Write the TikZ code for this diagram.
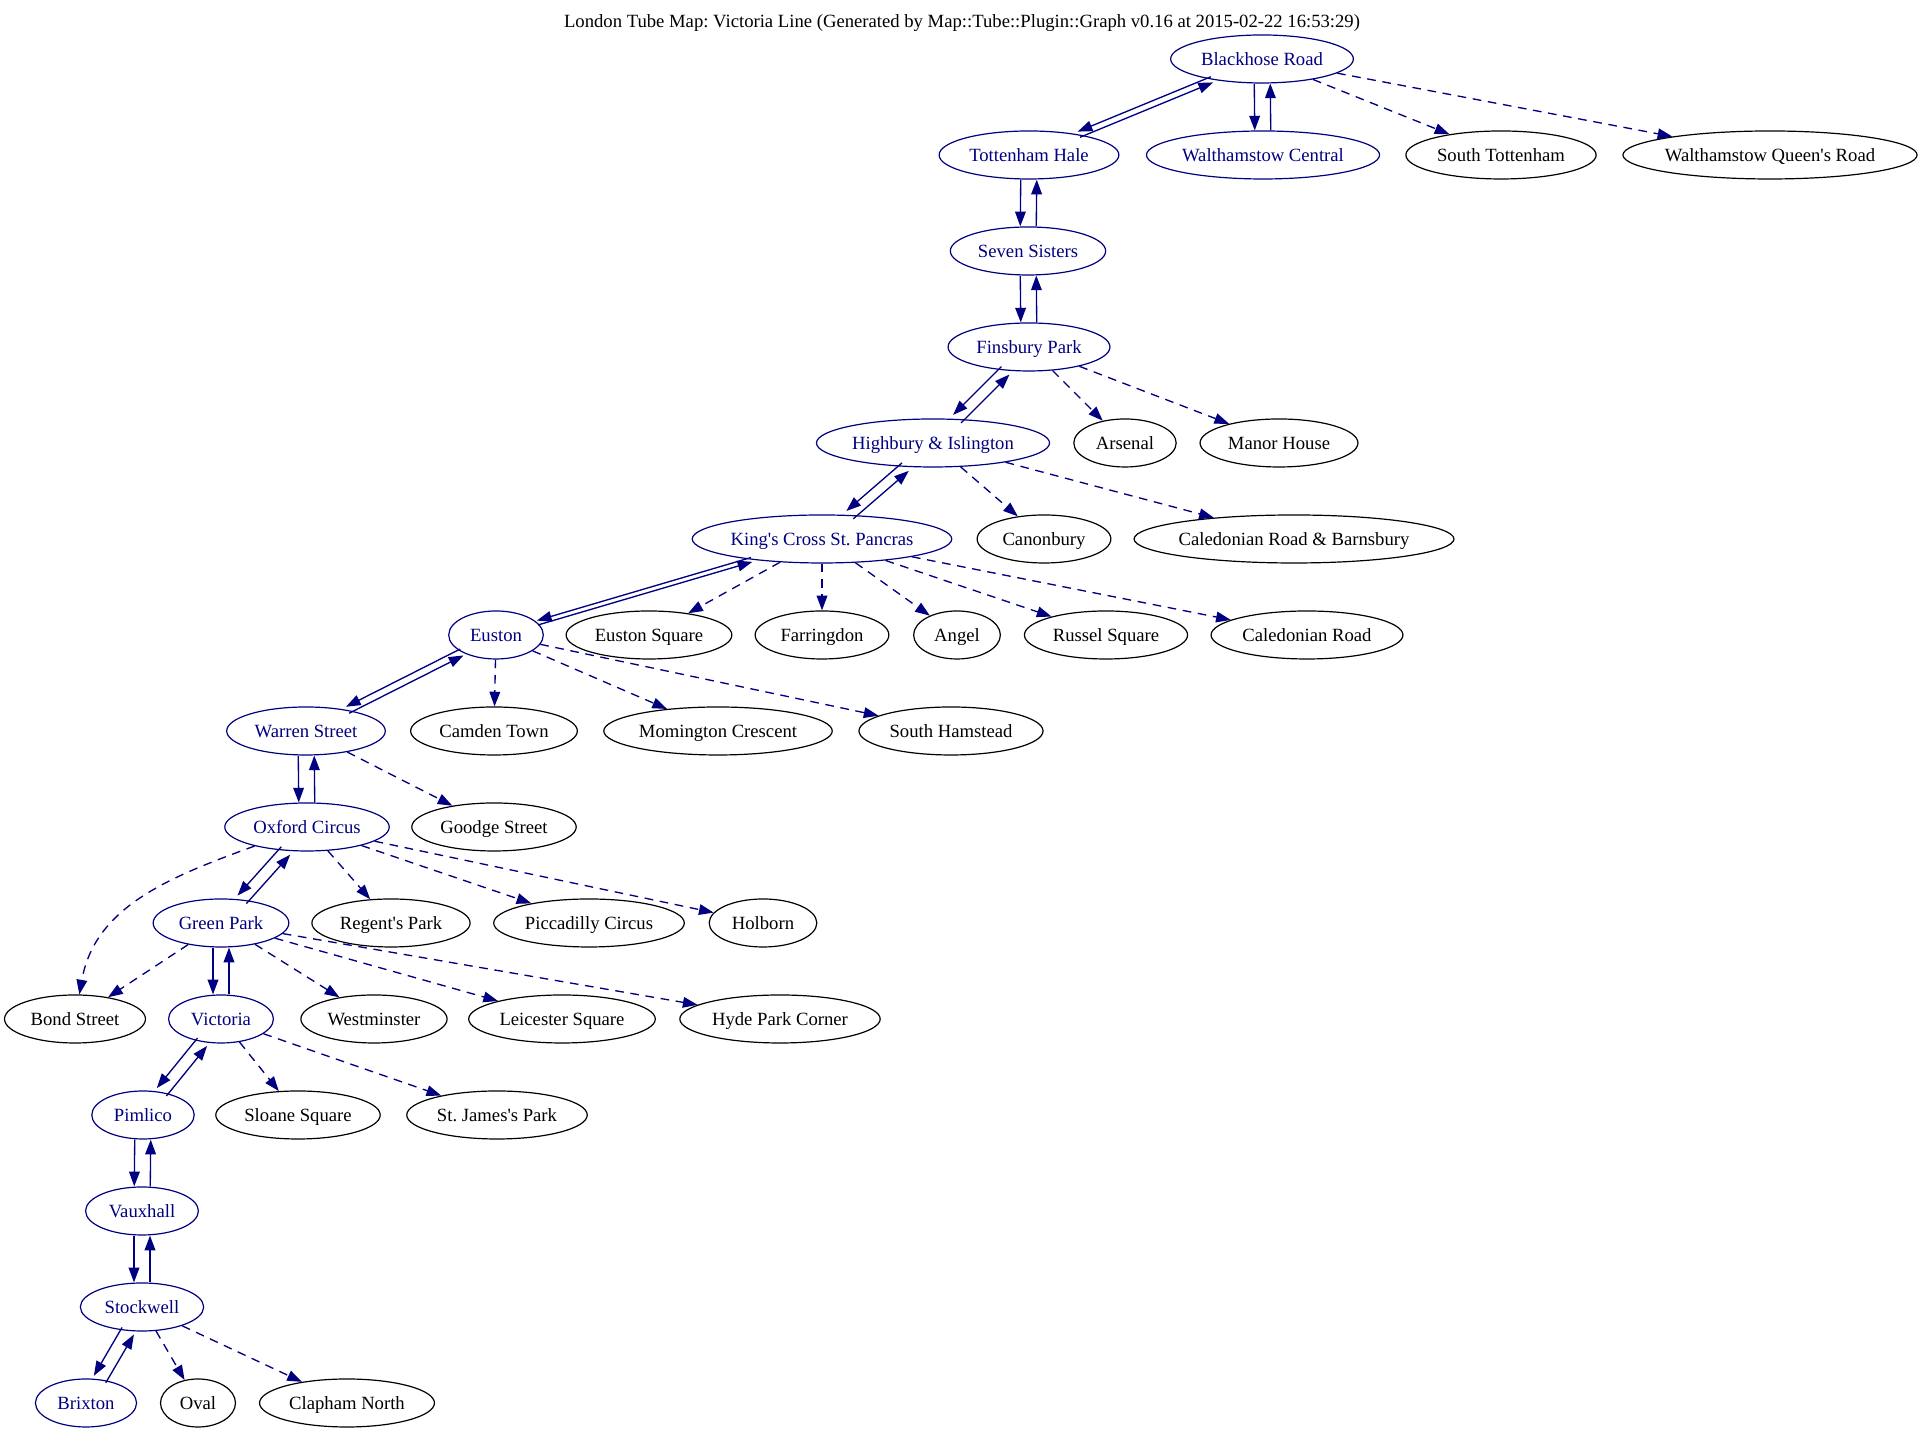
\documentclass[tikz,border=0pt]{standalone}
\usepackage{fontspec}
\setmainfont{Liberation Serif}
\usepackage{tikz}
\usetikzlibrary{arrows.meta,shapes.geometric}
\definecolor{navy}{RGB}{0,0,128}
\frenchspacing

% label box narrowed a little, so long names get tighter ellipses
\newsavebox\stationbox
\newlength\stationwd

\tikzset{
  station/.style={ellipse, draw, line width=0.9pt, minimum width=54pt, minimum height=36pt,
    inner xsep=0pt, inner ysep=2pt, text height=12pt, text depth=2.7pt,
    font=\fontsize{14}{16}\selectfont,
    execute at begin node={\setbox\stationbox=\hbox\bgroup},
    execute at end node={\egroup\setlength\stationwd{0.891\wd\stationbox}%
      \addtolength\stationwd{15.5pt}\hbox to \stationwd{\hss\box\stationbox\hss}}},
  onroute/.style={station, draw=navy, text=navy},
  offroute/.style={station, draw=black, text=black},
  tube/.style={navy, line width=1pt, -{Triangle[length=11pt,width=8pt]}},
  branch/.style={tube, dash pattern=on 6.5pt off 5pt},
}

% two opposite solid edges, each moved sideways to its own right
\newcommand\tubelink[2]{%
  \pgfmathanglebetweenpoints{\pgfpointanchor{#1}{center}}{\pgfpointanchor{#2}{center}}%
  \let\tubeangle\pgfmathresult
  \pgfmathsetmacro\tubedx{6*sin(\tubeangle)*sin(\tubeangle)}%
  \pgfmathsetmacro\tubedy{-6*sin(\tubeangle)*cos(\tubeangle)}%
  \pgfmathsetmacro\tubemx{0-(\tubedx)}%
  \pgfmathsetmacro\tubemy{0-(\tubedy)}%
  \draw[tube, transform canvas={shift={(\tubemx pt,\tubemy pt)}}] (#1) -- (#2);
  \draw[tube, transform canvas={shift={(\tubedx pt,\tubedy pt)}}] (#2) -- (#1);
}

\begin{document}
\begin{tikzpicture}[x=0.75pt, y=0.75pt]
    \useasboundingbox (0,0) rectangle (1924,1433);

    % Title
    \node[font=\fontsize{14}{16}\selectfont] (title) at (962,1410)
      {London Tube Map: Victoria Line (Generated by Map::Tube::Plugin::Graph v0.16 at 2015-02-22 16:53:29)};

    % Stations on the Victoria line
    \node[onroute] (blackhose) at (1262,1374) {Blackhose Road};
    \node[onroute] (tottenham) at (1029,1278) {Tottenham Hale};
    \node[onroute] (walthamstow) at (1263,1278) {Walthamstow Central};
    \node[onroute] (sevensisters) at (1028,1182) {Seven Sisters};
    \node[onroute] (finsbury) at (1029,1086) {Finsbury Park};
    \node[onroute] (highbury) at (933,990) {Highbury \& Islington};
    \node[onroute] (kingscross) at (822,894) {King\textquotesingle s Cross St. Pancras};
    \node[onroute] (euston) at (496,798) {Euston};
    \node[onroute] (warren) at (306,702) {Warren Street};
    \node[onroute] (oxford) at (307,606) {Oxford Circus};
    \node[onroute] (greenpark) at (221,510) {Green Park};
    \node[onroute] (victoria) at (221,414) {Victoria};
    \node[onroute] (pimlico) at (143,318) {Pimlico};
    \node[onroute] (vauxhall) at (142,222) {Vauxhall};
    \node[onroute] (stockwell) at (142,126) {Stockwell};
    \node[onroute] (brixton) at (86,30) {Brixton};

    % Stations on other lines
    \node[offroute] (southtott) at (1501,1278) {South Tottenham};
    \node[offroute] (queensroad) at (1770,1278) {Walthamstow Queen\textquotesingle s Road};
    \node[offroute] (arsenal) at (1125,990) {Arsenal};
    \node[offroute] (manorhouse) at (1279,990) {Manor House};
    \node[offroute] (canonbury) at (1044,894) {Canonbury};
    \node[offroute] (calbarnsbury) at (1294,894) {Caledonian Road \& Barnsbury};
    \node[offroute] (eustonsq) at (649,798) {Euston Square};
    \node[offroute] (farringdon) at (822,798) {Farringdon};
    \node[offroute] (angel) at (957,798) {Angel};
    \node[offroute] (russelsq) at (1106,798) {Russel Square};
    \node[offroute] (calroad) at (1307,798) {Caledonian Road};
    \node[offroute] (camden) at (494,702) {Camden Town};
    \node[offroute] (mornington) at (718,702) {Momington Crescent};
    \node[offroute] (hamstead) at (951,702) {South Hamstead};
    \node[offroute] (goodge) at (494,606) {Goodge Street};
    \node[offroute] (regents) at (391,510) {Regent\textquotesingle s Park};
    \node[offroute] (piccadilly) at (589,510) {Piccadilly Circus};
    \node[offroute] (holborn) at (763,510) {Holborn};
    \node[offroute] (bond) at (75,414) {Bond Street};
    \node[offroute] (westminster) at (374,414) {Westminster};
    \node[offroute] (leicester) at (562,414) {Leicester Square};
    \node[offroute] (hydepark) at (780,414) {Hyde Park Corner};
    \node[offroute] (sloane) at (298,318) {Sloane Square};
    \node[offroute] (stjames) at (497,318) {St. James\textquotesingle s Park};
    \node[offroute] (oval) at (198,30) {Oval};
    \node[offroute] (clapham) at (347,30) {Clapham North};

    % Victoria line, both directions
    \tubelink{blackhose}{tottenham}
    \tubelink{blackhose}{walthamstow}
    \tubelink{tottenham}{sevensisters}
    \tubelink{sevensisters}{finsbury}
    \tubelink{finsbury}{highbury}
    \tubelink{highbury}{kingscross}
    \tubelink{kingscross}{euston}
    \tubelink{euston}{warren}
    \tubelink{warren}{oxford}
    \tubelink{oxford}{greenpark}
    \tubelink{greenpark}{victoria}
    \tubelink{victoria}{pimlico}
    \tubelink{pimlico}{vauxhall}
    \tubelink{vauxhall}{stockwell}
    \tubelink{stockwell}{brixton}

    % Links to other lines
    \draw[branch] (blackhose) -- (southtott);
    \draw[branch] (blackhose) -- (queensroad);
    \draw[branch] (finsbury) -- (arsenal);
    \draw[branch] (finsbury) -- (manorhouse);
    \draw[branch] (highbury) -- (canonbury);
    \draw[branch] (highbury) -- (calbarnsbury);
    \draw[branch] (kingscross) -- (eustonsq);
    \draw[branch] (kingscross) -- (farringdon);
    \draw[branch] (kingscross) -- (angel);
    \draw[branch] (kingscross) -- (russelsq);
    \draw[branch] (kingscross) -- (calroad);
    \draw[branch] (euston) -- (camden);
    \draw[branch] (euston) -- (mornington);
    \draw[branch] (euston) -- (hamstead);
    \draw[branch] (warren) -- (goodge);
    \draw[branch] (oxford) to[out=200, in=80] (bond);
    \draw[branch] (oxford) -- (regents);
    \draw[branch] (oxford) -- (piccadilly);
    \draw[branch] (oxford) -- (holborn);
    \draw[branch] (greenpark) -- (bond);
    \draw[branch] (greenpark) -- (westminster);
    \draw[branch] (greenpark) -- (leicester);
    \draw[branch] (greenpark) -- (hydepark);
    \draw[branch] (victoria) -- (sloane);
    \draw[branch] (victoria) -- (stjames);
    \draw[branch] (stockwell) -- (oval);
    \draw[branch] (stockwell) -- (clapham);
\end{tikzpicture}
\end{document}
